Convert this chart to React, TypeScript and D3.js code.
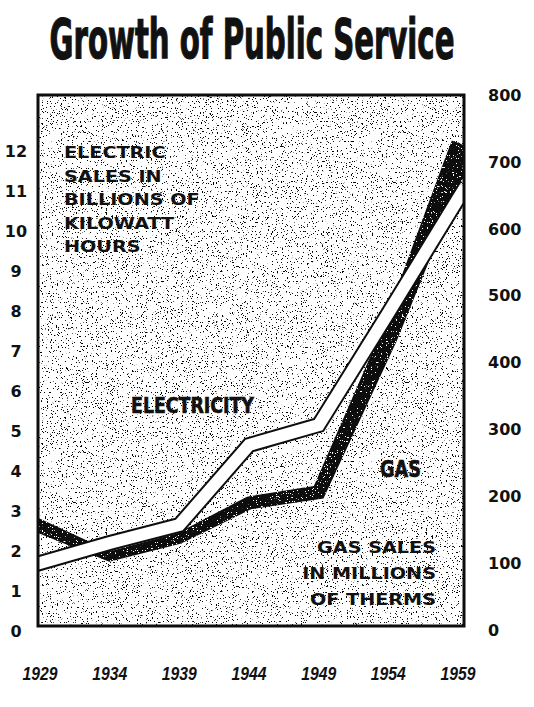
import React, { useLayoutEffect, useRef, useState } from 'react';
import * as d3 from 'd3';

// ---- data ----
const years = [1929, 1934, 1939, 1944, 1949, 1954, 1959];
const electricity = [1.7, 2.2, 2.65, 4.65, 5.15, 7.95, 10.8]; // billions of kWh (left axis)
const gas = [155, 110, 137, 190, 206, 437, 706]; // millions of therms (right axis)
const leftTicks = [0, 1, 2, 3, 4, 5, 6, 7, 8, 9, 10, 11, 12];
const rightTicks = [0, 100, 200, 300, 400, 500, 600, 700, 800];
const yearTicks = [1929, 1934, 1939, 1944, 1949, 1954, 1959];
const titleText = 'Growth of Public Service';
const electricNote = ['ELECTRIC', 'SALES IN', 'BILLIONS OF', 'KILOWATT', 'HOURS'];
const gasNote = ['GAS SALES', 'IN MILLIONS', 'OF THERMS'];
const electricLabel = 'ELECTRICITY';
const gasLabel = 'GAS';

// ---- layout ----
const W = 534;
const H = 707;
const frame = { x0: 38, x1: 464, y0: 95, y1: 626 };
const gasWidths = [14, 10, 11, 13, 14, 18, 24];

type P = [number, number];

function extend(pts: P[], d: number): P[] {
  const n = pts.length;
  const a = pts[0], b = pts[1];
  const la = Math.hypot(b[0] - a[0], b[1] - a[1]);
  const s: P = [a[0] - ((b[0] - a[0]) / la) * d, a[1] - ((b[1] - a[1]) / la) * d];
  const c = pts[n - 2], e = pts[n - 1];
  const le = Math.hypot(e[0] - c[0], e[1] - c[1]);
  const t: P = [e[0] + ((e[0] - c[0]) / le) * d, e[1] + ((e[1] - c[1]) / le) * d];
  return [s, ...pts, t];
}

function band(pts: P[], widths: number[]): P[] {
  const n = pts.length;
  const left: P[] = [];
  const right: P[] = [];
  const nrm = (a: P, b: P): P => {
    const dx = b[0] - a[0], dy = b[1] - a[1];
    const l = Math.hypot(dx, dy);
    return [-dy / l, dx / l];
  };
  for (let i = 0; i < n; i++) {
    const segs: P[] = [];
    if (i > 0) segs.push(nrm(pts[i - 1], pts[i]));
    if (i < n - 1) segs.push(nrm(pts[i], pts[i + 1]));
    let mx = 0, my = 0;
    segs.forEach((s) => { mx += s[0]; my += s[1]; });
    const ml = Math.hypot(mx, my);
    mx /= ml; my /= ml;
    const cos = Math.max(0.35, mx * segs[0][0] + my * segs[0][1]);
    const len = widths[i] / 2 / cos;
    left.push([pts[i][0] + mx * len, pts[i][1] + my * len]);
    right.push([pts[i][0] - mx * len, pts[i][1] - my * len]);
  }
  return left.concat(right.reverse());
}

// text squeezed/stretched horizontally to a target width (measured after layout)
function FitText(props: { x: number; y: number; width: number; anchor?: 'start' | 'middle' | 'end'; children: any; [k: string]: any }) {
  const { x, y, width, anchor = 'start', children, ...rest } = props;
  const ref = useRef<SVGTextElement>(null);
  const [sx, setSx] = useState(1);
  useLayoutEffect(() => {
    if (ref.current) {
      const len = ref.current.getComputedTextLength();
      if (len > 0) setSx(width / len);
    }
  }, [width, children]);
  return (
    <text ref={ref} transform={`translate(${x},${y}) scale(${sx},1)`} textAnchor={anchor} {...rest}>
      {children}
    </text>
  );
}

export default function App() {
  const x = d3.scaleLinear().domain([1929, 1959]).range([40, 458]);
  const yL = d3.scaleLinear().domain([0, 12]).range([631, 151]);
  const yR = d3.scaleLinear().domain([0, 800]).range([630, 95]);

  const ePts: P[] = years.map((yr, i) => [x(yr), yL(electricity[i])]);
  const gPts: P[] = years.map((yr, i) => [x(yr), yR(gas[i])]);

  const line = d3.line<P>().x((d) => d[0]).y((d) => d[1]);
  const ePath = line(extend(ePts, 14)) || '';

  const gW = [gasWidths[0], ...gasWidths, gasWidths[gasWidths.length - 1]];
  const gPoly = band(extend(gPts, 14), gW);
  const gPath = 'M' + gPoly.map((p) => p.join(',')).join('L') + 'Z';

  const numFont = "'DejaVu Sans', sans-serif";
  const noteFont = "'DejaVu Sans', sans-serif";
  const condFont = "'DejaVu Sans Condensed', 'Liberation Sans Narrow', 'DejaVu Sans', sans-serif";
  const ink = '#111';

  return (
    <svg width={W} height={H} style={{ position: 'absolute', left: 0, top: 0, background: '#fff' }}>
      <defs>
        <clipPath id="plotClip">
          <rect x={frame.x0} y={frame.y0} width={frame.x1 - frame.x0} height={frame.y1 - frame.y0} />
        </clipPath>
        <clipPath id="gasClip">
          <path d={gPath} />
        </clipPath>
        <filter id="speckDark" x="0" y="0" width="100%" height="100%">
          <feTurbulence type="fractalNoise" baseFrequency="0.8" numOctaves="2" seed="7" result="n" />
          <feColorMatrix in="n" type="matrix" values="0 0 0 0 0  0 0 0 0 0  0 0 0 0 0  28 0 0 0 -18.2" />
        </filter>
        <filter id="speckLight" x="0" y="0" width="100%" height="100%">
          <feTurbulence type="fractalNoise" baseFrequency="0.8" numOctaves="2" seed="19" result="n" />
          <feColorMatrix in="n" type="matrix" values="0 0 0 0 1  0 0 0 0 1  0 0 0 0 1  30 0 0 0 -20" />
        </filter>
      </defs>

      <rect x={0} y={0} width={W} height={H} fill="#fff" />

      {/* title */}
      <FitText x={252} y={58} width={405} anchor="middle" fontFamily={condFont} fontWeight="bold" fontSize={55}
        fill={ink} stroke={ink} strokeWidth={1.2}>{titleText}</FitText>

      {/* plot background stipple */}
      <g clipPath="url(#plotClip)">
        <rect x={frame.x0} y={frame.y0} width={frame.x1 - frame.x0} height={frame.y1 - frame.y0} fill="#fff" />
        <rect x={frame.x0} y={frame.y0} width={frame.x1 - frame.x0} height={frame.y1 - frame.y0} filter="url(#speckDark)" />

        {/* gas band */}
        <path d={gPath} fill="#0d0d0d" />
        <g clipPath="url(#gasClip)">
          <rect x={frame.x0} y={frame.y0} width={frame.x1 - frame.x0} height={frame.y1 - frame.y0} filter="url(#speckLight)" />
        </g>

        {/* electricity ribbon */}
        <path d={ePath} fill="none" stroke="#0d0d0d" strokeWidth={16} strokeLinejoin="miter" />
        <path d={ePath} fill="none" stroke="#fff" strokeWidth={12} strokeLinejoin="miter" />
      </g>

      {/* notes */}
      {electricNote.map((t, i) => (
        <g key={t} transform={`translate(64,${158 + i * 23.5}) scale(1.2,1)`}>
          <text x={0} y={0} fontFamily={noteFont} fontWeight="bold" fontSize={16} fill={ink}>{t}</text>
        </g>
      ))}
      {gasNote.map((t, i) => (
        <g key={t} transform={`translate(436,${553 + i * 26}) scale(1.2,1)`}>
          <text x={0} y={0} textAnchor="end" fontFamily={noteFont} fontWeight="bold" fontSize={16} fill={ink}>{t}</text>
        </g>
      ))}
      <FitText x={131} y={413} width={123} fontFamily={condFont} fontWeight="bold" fontSize={21}
        fill={ink} stroke={ink} strokeWidth={0.6}>{electricLabel}</FitText>
      <FitText x={380} y={477} width={41} fontFamily={condFont} fontWeight="bold" fontSize={23}
        fill={ink} stroke={ink} strokeWidth={0.6}>{gasLabel}</FitText>

      {/* frame */}
      <rect x={frame.x0} y={frame.y0} width={frame.x1 - frame.x0} height={frame.y1 - frame.y0}
        fill="none" stroke="#0d0d0d" strokeWidth={3} />

      {/* left axis */}
      {leftTicks.map((v) => (
        <text key={'l' + v} x={16} y={yL(v)} dy="0.36em" textAnchor="middle" fontFamily={numFont}
          fontWeight="bold" fontSize={16} fill={ink}>{v}</text>
      ))}
      {/* right axis */}
      {rightTicks.map((v) => (
        <text key={'r' + v} x={488} y={yR(v)} dy="0.36em" textAnchor="start" fontFamily={numFont}
          fontWeight="bold" fontSize={16} fill={ink}>{v}</text>
      ))}
      {/* years */}
      {yearTicks.map((yr) => (
        <FitText key={'y' + yr} x={x(yr)} y={680} width={35} anchor="middle" fontFamily="'Liberation Sans', sans-serif"
          fontWeight="bold" fontStyle="italic" fontSize={18} fill={ink}>{String(yr)}</FitText>
      ))}
    </svg>
  );
}
